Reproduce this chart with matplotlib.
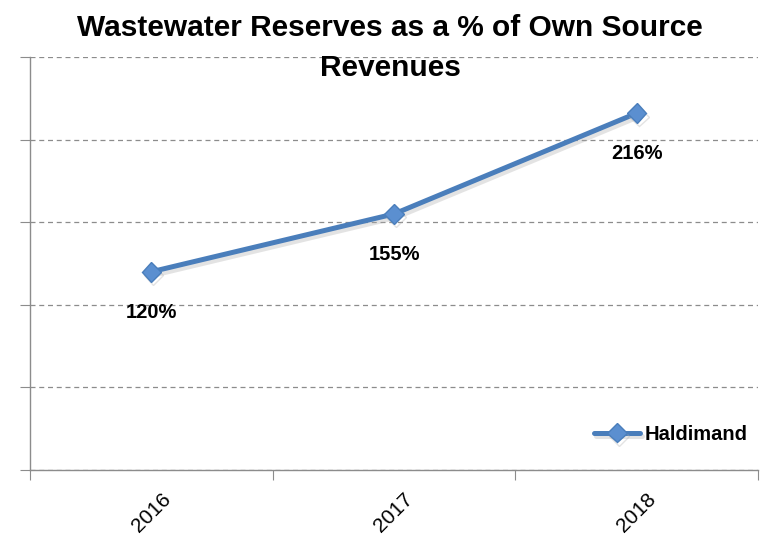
import matplotlib
matplotlib.use("Agg")
import matplotlib.pyplot as plt
import matplotlib.patheffects as pe

# reserves as a percentage of own source revenues
years = ["2016", "2017", "2018"]
haldimand = [120, 155, 216]

line_color = "#4A7EBB"
grid_color = "#8C8C8C"

plt.rcParams["font.family"] = ["Liberation Sans", "DejaVu Sans"]

fig = plt.figure(figsize=(7.78, 5.43), dpi=100)
ax = fig.add_axes([30 / 778, 1 - 470 / 543, 728 / 778, 413 / 543])

xs = list(range(len(years)))
shadow = [pe.SimpleLineShadow(offset=(1.5, -2.5), shadow_color="#b0b0b0", alpha=0.35), pe.Normal()]
ax.plot(xs, haldimand, color=line_color, lw=3.6, marker="D", markersize=10,
        markerfacecolor="#5B8FD0", markeredgecolor=line_color, solid_capstyle="round",
        label="Haldimand", path_effects=shadow, zorder=3)

for x, v in zip(xs, haldimand):
    ax.annotate(f"{v}%", (x, v), xytext=(0, -29), textcoords="offset points",
                ha="center", va="center", fontsize=14.5, fontweight="bold", zorder=4)

ax.set_xlim(-0.5, len(years) - 0.5)
ax.set_ylim(0, 250)

# category boundaries as ticks, year labels in between
ax.set_xticks([i - 0.5 for i in range(len(years) + 1)])
ax.set_xticklabels([])
ax.set_xticks(xs, minor=True)
ax.set_xticklabels(years, minor=True, rotation=45, fontsize=15)
ax.tick_params(axis="x", which="major", length=7, direction="out", color=grid_color)
ax.tick_params(axis="x", which="minor", length=0, pad=14)

ax.set_yticks([0, 50, 100, 150, 200, 250])
ax.set_yticklabels([])
ax.tick_params(axis="y", length=7, color=grid_color)
ax.yaxis.grid(True, linestyle=(0, (4, 3)), color=grid_color, lw=0.9)
ax.set_axisbelow(True)

for side in ["top", "right"]:
    ax.spines[side].set_visible(False)
for side in ["left", "bottom"]:
    ax.spines[side].set_color(grid_color)
    ax.spines[side].set_linewidth(1.0)

leg = ax.legend(loc="lower right", frameon=False, handlelength=2.3, handletextpad=0.2,
                bbox_to_anchor=(1.01, 0.02), prop={"weight": "bold", "size": 14.5})

fig.text(390 / 778, 1 - 48 / 543, "Wastewater Reserves as a % of Own Source\nRevenues",
         ha="center", va="center", fontsize=21.5, fontweight="bold", linespacing=1.55)

fig.savefig("out.png", dpi=100)
